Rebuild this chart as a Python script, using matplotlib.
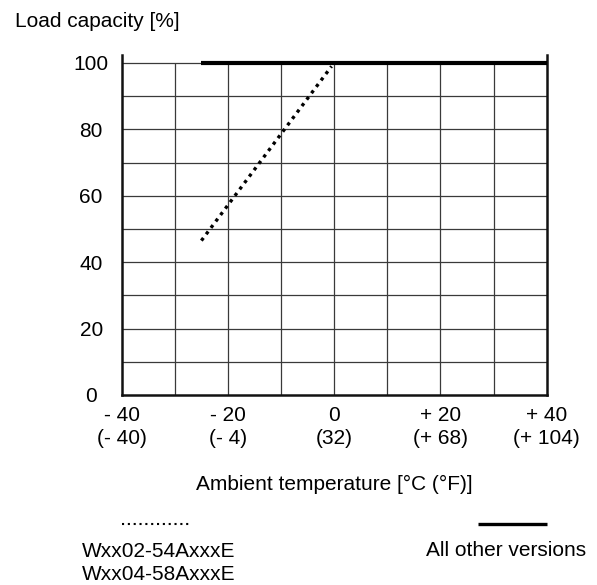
import matplotlib
matplotlib.use("Agg")
import matplotlib.pyplot as plt
from matplotlib.lines import Line2D

plt.rcParams['font.family'] = ['Liberation Sans', 'DejaVu Sans']

# Data
x_ticks = [-40, -20, 0, 20, 40]
x_labels = ["- 40\n(- 40)", "- 20\n(- 4)", "0\n(32)", "+ 20\n(+ 68)", "+ 40\n(+ 104)"]
y_ticks = [0, 20, 40, 60, 80, 100]
y_labels = ["0", "20", "40", "60", "80", "100"]
x_grid = [-30, -20, -10, 0, 10, 20, 30]
y_grid = [10, 20, 30, 40, 50, 60, 70, 80, 90, 100]

other_x = [-25, 40]
other_y = [100, 100]
w_x = [-25, -0.5]
w_y = [46.5, 99]

label_w = "Wxx02-54AxxxE\nWxx04-58AxxxE"
label_other = "All other versions"

W, H = 597, 585
fig = plt.figure(figsize=(W / 100, H / 100), dpi=100)
ax = fig.add_axes([121.7 / W, 1 - 395 / H, 425 / W, (395 - 54.7) / H])
ax.set_xlim(-40, 40)
ax.set_ylim(0, 102.5)

grid_c = '#3a3a3a'
ax.vlines(x_grid, 0, 100, colors=grid_c, linewidth=0.9, zorder=1)
ax.hlines(y_grid, -40, 40, colors=grid_c, linewidth=0.9, zorder=1)

ax.plot(other_x, other_y, color='black', linewidth=3.0, solid_capstyle='butt', zorder=3)
ax.plot(w_x, w_y, color='black', linewidth=2.4, linestyle=(0, (1, 1.4)),
        dash_capstyle='butt', zorder=3)

for s in ['left', 'right', 'bottom']:
    ax.spines[s].set_linewidth(1.8)
    ax.spines[s].set_color('#111111')
ax.spines['top'].set_visible(False)

ax.set_xticks(x_ticks)
ax.set_xticklabels(x_labels, fontsize=15, linespacing=1.25)
ax.set_yticks(y_ticks)
ax.set_yticklabels(y_labels, fontsize=15, ha='center')
ax.tick_params(axis='x', length=0, pad=8)
ax.tick_params(axis='y', length=0, pad=22)

fig.text(15 / W, 1 - 21.7 / H, "Load capacity [%]", fontsize=15, ha='left', va='center')
fig.text((121.7 + 212.5) / W, 1 - 484 / H, "Ambient temperature [°C (°F)]",
         fontsize=15, ha='center', va='center')

# Legend
fig.add_artist(Line2D([121.7 / W, 190 / W], [1 - 524 / H, 1 - 524 / H],
                      color='black', linewidth=1.5, linestyle=(0, (1, 1.8)),
                      dash_capstyle='butt'))
fig.text(159 / W, 1 - 563 / H, label_w, fontsize=15, ha='center', va='center',
         linespacing=1.25)
fig.add_artist(Line2D([478 / W, 547 / W], [1 - 524 / H, 1 - 524 / H],
                      color='black', linewidth=2.4, solid_capstyle='butt'))
fig.text(506 / W, 1 - 550 / H, label_other, fontsize=15, ha='center', va='center')

fig.savefig("out.png", dpi=100)
